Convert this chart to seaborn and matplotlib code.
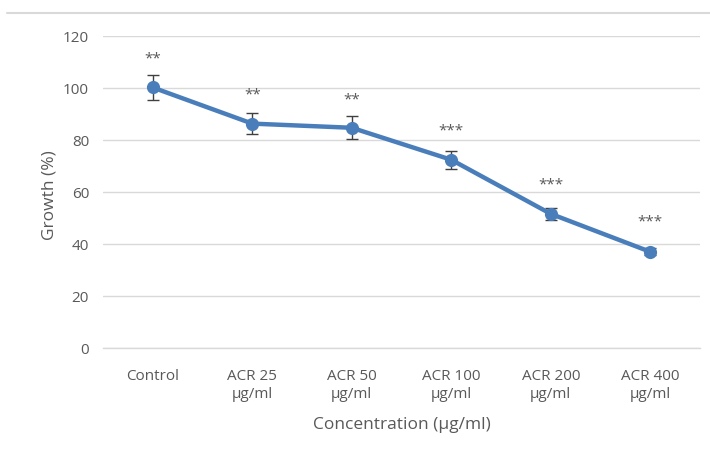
import matplotlib
matplotlib.use("Agg")
import matplotlib.pyplot as plt
from matplotlib.lines import Line2D
import seaborn as sns
import pandas as pd

categories = ["Control", "ACR 25\nµg/ml", "ACR 50\nµg/ml", "ACR 100\nµg/ml", "ACR 200\nµg/ml", "ACR 400\nµg/ml"]
growth = [100.2, 86.3, 84.7, 72.4, 51.6, 37.0]
errors = [4.8, 4.1, 4.4, 3.4, 2.4, 1.4]
stars = ["**", "**", "**", "***", "***", "***"]
star_y = [111.0, 97.3, 95.4, 83.5, 62.7, 48.5]
yticks = [0, 20, 40, 60, 80, 100, 120]

sns.set_theme(style="white")
plt.rcParams["font.family"] = ["Open Sans", "DejaVu Sans"]

df = pd.DataFrame({"cat": categories, "growth": growth, "err": errors})

W, H = 710, 457
fig = plt.figure(figsize=(W / 100, H / 100), dpi=100)
ax_left, ax_right, ax_top, ax_bottom = 103, 700, 36, 348
ax = fig.add_axes([ax_left / W, 1 - ax_bottom / H,
                   (ax_right - ax_left) / W, (ax_bottom - ax_top) / H])

line_color = "#4a7ebb"
text_color = "#595959"

ax.errorbar(range(len(df)), df["growth"], yerr=df["err"], fmt="none",
            ecolor="#404040", elinewidth=1.0, capsize=4, capthick=1.0, zorder=2)
sns.lineplot(data=df, x=range(len(df)), y="growth", ax=ax, color=line_color,
             linewidth=3.2, marker="o", markersize=9.5, markeredgewidth=0,
             sort=False, zorder=3)

for i, (s, y) in enumerate(zip(stars, star_y)):
    ax.text(i, y, s, ha="center", va="center", fontsize=11, color=text_color)

ax.set_xlim(-0.5, len(df) - 0.5)
ax.set_ylim(0, 120)
ax.set_yticks(yticks)
ax.set_xticks(range(len(df)))
ax.set_xticklabels(df["cat"], fontsize=11, color=text_color, linespacing=1.3)
ax.set_yticklabels([str(t) for t in yticks], fontsize=11, color=text_color)
ax.tick_params(axis="y", length=0, pad=10)
ax.tick_params(axis="x", length=0, pad=15)

ax.yaxis.grid(True, color="#d9d9d9", linewidth=1.0)
ax.set_axisbelow(True)
for sp in ["top", "right", "left"]:
    ax.spines[sp].set_visible(False)
ax.spines["bottom"].set_color("#d9d9d9")
ax.spines["bottom"].set_linewidth(1.0)

ax.set_xlabel("Concentration (µg/ml)", fontsize=12.5, color=text_color)
ax.set_ylabel("Growth (%)", fontsize=12.5, color=text_color)
ax.xaxis.set_label_coords(0.5, (ax_bottom - 417) / (ax_bottom - ax_top))
ax.yaxis.set_label_coords((57 - ax_left) / (ax_right - ax_left), 0.49)

fig.add_artist(Line2D([0.01, 1.0], [1 - 13 / H, 1 - 13 / H],
                      transform=fig.transFigure, color="#d9d9d9", linewidth=1.5))

fig.savefig("out.png", dpi=100, facecolor="white")
